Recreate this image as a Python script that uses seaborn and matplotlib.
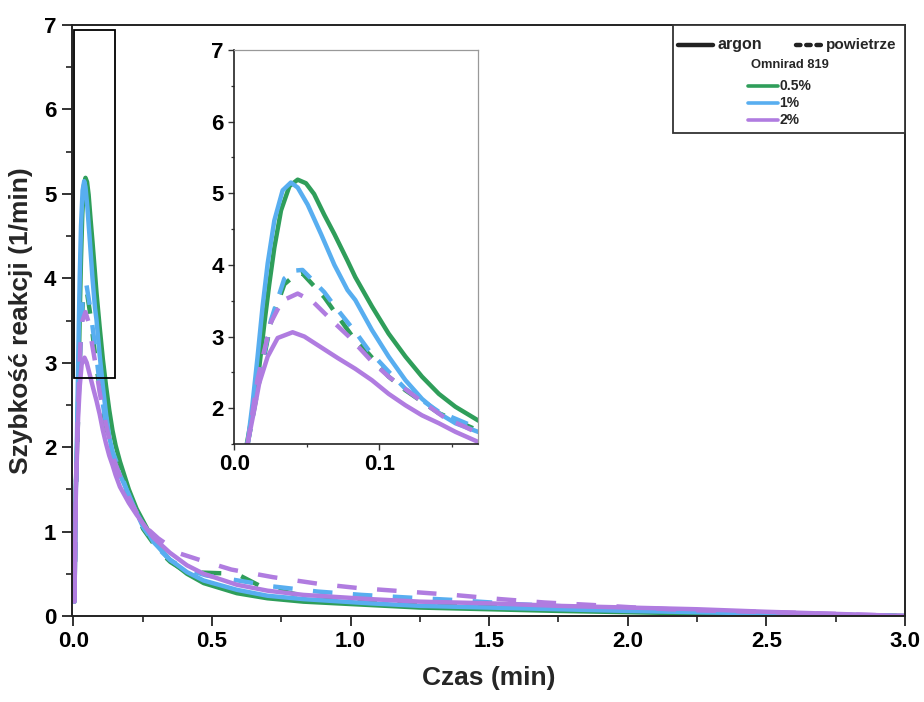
import numpy as np
import pandas as pd
import matplotlib
matplotlib.use("Agg")
import matplotlib.pyplot as plt
from matplotlib.lines import Line2D
from matplotlib.patches import Rectangle
from matplotlib.ticker import MultipleLocator, FormatStrFormatter
import seaborn as sns

# ---------------- data ----------------
concentrations = ["0.5%", "1%", "2%"]
atmospheres = ["argon", "powietrze"]

x_argon_05 = [0.004, 0.0087, 0.0138, 0.0172, 0.0207, 0.0241, 0.0276, 0.0322, 0.038, 0.0437, 0.0494, 0.055,
              0.062, 0.069, 0.078, 0.0834, 0.0949, 0.1064, 0.118, 0.1294, 0.141, 0.1524, 0.168, 0.2, 0.228,
              0.288, 0.348, 0.41, 0.47, 0.59, 0.7, 0.83, 1.07, 1.25, 1.5, 1.75, 2.0, 2.25, 2.5, 2.75, 3.0]
y_argon_05 = [0.17, 1.51, 2.07, 2.57, 3.18, 3.73, 4.24, 4.76, 5.1, 5.19, 5.14, 4.99,
              4.7, 4.43, 4.06, 3.83, 3.42, 3.04, 2.72, 2.44, 2.2, 2.02, 1.83, 1.5, 1.27,
              0.9, 0.66, 0.5, 0.39, 0.27, 0.21, 0.17, 0.13, 0.1, 0.08, 0.06, 0.045, 0.03, 0.02, 0.01, 0.0]

x_argon_1 = [0.004, 0.0092, 0.0126, 0.016, 0.0195, 0.023, 0.0276, 0.0333, 0.039, 0.0437, 0.0506, 0.0598,
             0.069, 0.078, 0.0834, 0.0949, 0.1064, 0.118, 0.1294, 0.141, 0.1524, 0.168, 0.2, 0.228, 0.288,
             0.348, 0.41, 0.47, 0.59, 0.7, 0.83, 1.07, 1.25, 1.5, 1.75, 2.0, 2.25, 2.5, 2.75, 3.0]
y_argon_1 = [0.17, 1.52, 2.07, 2.71, 3.42, 4.02, 4.62, 5.04, 5.15, 5.08, 4.84, 4.43,
             4.0, 3.65, 3.51, 3.09, 2.72, 2.39, 2.13, 1.93, 1.79, 1.67, 1.44, 1.22, 0.88,
             0.67, 0.52, 0.42, 0.31, 0.24, 0.2, 0.15, 0.12, 0.1, 0.08, 0.06, 0.045, 0.03, 0.015, 0.0]

x_argon_2 = [0.004, 0.0092, 0.0138, 0.0172, 0.023, 0.0299, 0.0402, 0.0483, 0.0598, 0.0713, 0.0834, 0.0949,
             0.1064, 0.118, 0.1294, 0.141, 0.1524, 0.168, 0.2, 0.228, 0.288, 0.348, 0.41, 0.47, 0.59, 0.7,
             0.83, 1.07, 1.25, 1.5, 1.75, 2.0, 2.25, 2.5, 2.75, 3.0]
y_argon_2 = [0.17, 1.51, 1.98, 2.35, 2.72, 2.98, 3.06, 3.0, 2.85, 2.7, 2.55, 2.39,
             2.2, 2.04, 1.9, 1.79, 1.67, 1.53, 1.34, 1.2, 0.93, 0.75, 0.6, 0.5, 0.37, 0.3,
             0.25, 0.2, 0.17, 0.15, 0.12, 0.1, 0.08, 0.05, 0.025, 0.0]

x_air_05 = [0.004, 0.0092, 0.0184, 0.0253, 0.0345, 0.0414, 0.047, 0.062, 0.069, 0.084, 0.0926, 0.1064,
            0.118, 0.141, 0.168, 0.2, 0.252, 0.306, 0.35, 0.408, 0.5, 0.588, 0.677, 0.8, 1.0, 1.25, 1.5,
            1.75, 2.0, 2.5, 3.0]
y_air_05 = [0.17, 1.5, 2.5, 3.2, 3.73, 3.85, 3.88, 3.55, 3.35, 2.93, 2.76, 2.44,
            2.25, 1.93, 1.69, 1.4, 1.03, 0.78, 0.64, 0.52, 0.51, 0.5, 0.35, 0.26, 0.2, 0.15, 0.11,
            0.08, 0.06, 0.03, 0.0]

x_air_1 = [0.004, 0.0092, 0.0184, 0.0253, 0.0345, 0.0414, 0.047, 0.062, 0.069, 0.084, 0.0926, 0.1064,
           0.118, 0.141, 0.168, 0.2, 0.252, 0.306, 0.35, 0.408, 0.48, 0.558, 0.65, 0.72, 0.8, 0.88, 1.04,
           1.2, 1.37, 1.6, 1.8, 2.0, 2.25, 2.5, 2.75, 3.0]
y_air_1 = [0.17, 1.5, 2.54, 3.23, 3.81, 3.92, 3.93, 3.62, 3.43, 3.05, 2.81, 2.51,
           2.27, 1.95, 1.72, 1.42, 1.05, 0.8, 0.66, 0.55, 0.48, 0.44, 0.39, 0.35, 0.32, 0.29, 0.25,
           0.22, 0.19, 0.14, 0.11, 0.08, 0.06, 0.035, 0.015, 0.0]

x_air_2 = [0.004, 0.0092, 0.016, 0.0253, 0.033, 0.0437, 0.054, 0.069, 0.079, 0.0949, 0.1064, 0.1248,
           0.1455, 0.159, 0.168, 0.2, 0.252, 0.306, 0.384, 0.45, 0.57, 0.72, 0.887, 1.03, 1.2, 1.37,
           1.54, 1.7, 1.875, 2.03, 2.21, 2.53, 2.75, 3.0]
y_air_2 = [0.17, 1.5, 2.4, 3.2, 3.5, 3.6, 3.49, 3.19, 3.0, 2.65, 2.44, 2.16,
           1.86, 1.74, 1.65, 1.4, 1.08, 0.92, 0.74, 0.67, 0.55, 0.46, 0.38, 0.33, 0.29, 0.25,
           0.2, 0.16, 0.13, 0.1, 0.07, 0.045, 0.025, 0.0]

series = [
    ("argon", "0.5%", x_argon_05, y_argon_05),
    ("argon", "1%", x_argon_1, y_argon_1),
    ("argon", "2%", x_argon_2, y_argon_2),
    ("powietrze", "0.5%", x_air_05, y_air_05),
    ("powietrze", "1%", x_air_1, y_air_1),
    ("powietrze", "2%", x_air_2, y_air_2),
]
rows = []
for atm, conc, xs, ys in series:
    for xv, yv in zip(xs, ys):
        rows.append({"Czas": xv, "Szybkosc": yv, "atm": atm, "conc": conc})
df = pd.DataFrame(rows)

palette = {"0.5%": "#2f9e5a", "1%": "#58aef0", "2%": "#b07ce0"}

# ---------------- figure ----------------
sns.set_theme(style="ticks")
plt.rcParams["font.family"] = ["Liberation Sans", "DejaVu Sans"]
plt.rcParams["font.weight"] = "bold"

W, H = 924, 702
fig = plt.figure(figsize=(W / 100, H / 100), dpi=100)

def fx(px):
    return px / W

def fy(py):
    return 1 - py / H

ax = fig.add_axes([fx(71.7), fy(616), fx(905) - fx(71.7), fy(25) - fy(616)])
sns.lineplot(data=df, x="Czas", y="Szybkosc", hue="conc", style="atm",
             hue_order=concentrations, style_order=atmospheres,
             palette=palette, dashes={"argon": "", "powietrze": (4.4, 4.6)},
             estimator=None, sort=False, linewidth=3.2, legend=False, ax=ax)
ax.set_xlim(-0.006, 3.0)
ax.set_ylim(0, 7)
ax.xaxis.set_major_locator(MultipleLocator(0.5))
ax.xaxis.set_minor_locator(MultipleLocator(0.25))
ax.yaxis.set_major_locator(MultipleLocator(1))
ax.yaxis.set_minor_locator(MultipleLocator(0.5))
ax.xaxis.set_major_formatter(FormatStrFormatter("%.1f"))
ax.tick_params(which="major", direction="out", length=7, width=1.3, labelsize=16, colors="#222222", pad=4)
ax.tick_params(which="minor", direction="out", length=4, width=1.2, colors="#222222")
for lab in ax.get_xticklabels() + ax.get_yticklabels():
    lab.set_fontweight("bold")
    lab.set_color("black")
for s in ax.spines.values():
    s.set_visible(True)
    s.set_linewidth(1.4)
    s.set_color("#222222")
ax.set_xlabel("Czas (min)", fontsize=19, fontweight="bold", labelpad=10)
ax.set_ylabel("Szybkość reakcji (1/min)", fontsize=19, fontweight="bold", labelpad=8)

# zoom rectangle
ax.add_patch(Rectangle((0.003, 2.82), 0.147, 4.12, fill=False, edgecolor="black", linewidth=1.3, zorder=5))

# ---------------- inset ----------------
axi = fig.add_axes([fx(234.3), fy(444), fx(478) - fx(234.3), fy(50) - fy(444)])
sns.lineplot(data=df, x="Czas", y="Szybkosc", hue="conc", style="atm",
             hue_order=concentrations, style_order=atmospheres,
             palette=palette, dashes={"argon": "", "powietrze": (4, 3)},
             estimator=None, sort=False, linewidth=3.2, legend=False, ax=axi)
axi.set_xlim(0, 0.168)
axi.set_ylim(1.5, 7)
axi.xaxis.set_major_locator(MultipleLocator(0.1))
axi.xaxis.set_minor_locator(MultipleLocator(0.05))
axi.yaxis.set_major_locator(MultipleLocator(1))
axi.yaxis.set_minor_locator(MultipleLocator(0.5))
axi.xaxis.set_major_formatter(FormatStrFormatter("%.1f"))
axi.tick_params(which="major", direction="out", length=4, width=1.0, labelsize=16, colors="#333333")
axi.tick_params(which="minor", direction="out", length=2.5, width=0.9, colors="#333333")
for lab in axi.get_xticklabels() + axi.get_yticklabels():
    lab.set_fontweight("bold")
    lab.set_color("black")
axi.set_xlabel("")
axi.set_ylabel("")
axi.spines["left"].set_color("#222222")
axi.spines["bottom"].set_color("#222222")
axi.spines["left"].set_linewidth(1.2)
axi.spines["bottom"].set_linewidth(1.2)
axi.spines["top"].set_color("#999999")
axi.spines["right"].set_color("#999999")
axi.spines["top"].set_linewidth(0.9)
axi.spines["right"].set_linewidth(0.9)
axi.set_facecolor("white")

# ---------------- legend (custom, drawn in figure coords) ----------------
fig.add_artist(Rectangle((fx(673), fy(133)), fx(905) - fx(673), fy(25) - fy(133),
                         transform=fig.transFigure, fill=True, facecolor="white",
                         edgecolor="#333333", linewidth=1.3, zorder=10))
fig.add_artist(Line2D([fx(678), fx(713)], [fy(45), fy(45)], transform=fig.transFigure,
                      color="#222222", linewidth=3.2, solid_capstyle="round", zorder=11))
fig.text(fx(718), fy(45), "argon", transform=fig.transFigure, fontsize=11.5, fontweight="bold",
         va="center", ha="left", zorder=11)
fig.add_artist(Line2D([fx(796), fx(824)], [fy(45), fy(45)], transform=fig.transFigure,
                      color="#222222", linewidth=3.2, dashes=(1.0, 1.3), dash_capstyle="round", zorder=11))
fig.text(fx(826), fy(45), "powietrze", transform=fig.transFigure, fontsize=11, fontweight="bold",
         va="center", ha="left", zorder=11)
fig.text(fx(790), fy(65), "Omnirad 819", transform=fig.transFigure, fontsize=9.3, fontweight="bold",
         va="center", ha="center", zorder=11)
for conc, py in zip(concentrations, [86, 103, 120]):
    fig.add_artist(Line2D([fx(748), fx(778)], [fy(py), fy(py)], transform=fig.transFigure,
                          color=palette[conc], linewidth=2.6, zorder=11))
    fig.text(fx(779), fy(py), conc, transform=fig.transFigure, fontsize=10, fontweight="bold",
             va="center", ha="left", zorder=11)

fig.savefig("out.png", dpi=100, facecolor="white")
